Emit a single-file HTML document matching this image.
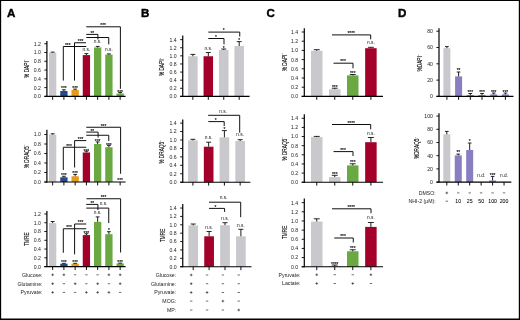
<!DOCTYPE html>
<html><head><meta charset="utf-8"><title>Figure</title>
<style>
html,body{margin:0;padding:0;background:#fff;}
body{width:520px;height:320px;overflow:hidden;position:relative;font-family:"Liberation Sans",sans-serif;}
svg{position:absolute;left:0;top:0;display:block;opacity:0.999;will-change:transform;}
svg text{font-family:"Liberation Sans",sans-serif;fill:#000;stroke:#000;stroke-width:0.04px;}
</style></head>
<body>
<svg width="520" height="320" viewBox="0 0 520 320">
<defs><filter id="soft" x="0" y="0" width="520" height="320" filterUnits="userSpaceOnUse"><feGaussianBlur stdDeviation="0.32"/></filter></defs>
<rect x="0" y="0" width="520" height="320" fill="#fff"/>
<g filter="url(#soft)">
<rect x="0" y="0" width="520" height="320" fill="#fff"/>
<rect x="49.00" y="52.50" width="7.30" height="43.90" fill="#c9c8cd"/>
<line x1="52.65" y1="52.10" x2="52.65" y2="52.50" stroke="#111" stroke-width="0.95"/>
<line x1="50.72" y1="52.10" x2="54.58" y2="52.10" stroke="#111" stroke-width="0.9"/>
<rect x="60.25" y="91.00" width="7.30" height="5.40" fill="#27488a"/>
<line x1="63.90" y1="89.75" x2="63.90" y2="91.00" stroke="#111" stroke-width="0.95"/>
<line x1="61.97" y1="89.75" x2="65.82" y2="89.75" stroke="#111" stroke-width="0.9"/>
<text x="63.90" y="90.20" text-anchor="middle" font-size="4.8" style="stroke-width:0.12px">***</text>
<rect x="71.50" y="90.00" width="7.30" height="6.40" fill="#e59a1f"/>
<line x1="75.15" y1="89.10" x2="75.15" y2="90.00" stroke="#111" stroke-width="0.95"/>
<line x1="73.23" y1="89.10" x2="77.08" y2="89.10" stroke="#111" stroke-width="0.9"/>
<text x="75.15" y="89.55" text-anchor="middle" font-size="4.8" style="stroke-width:0.12px">***</text>
<rect x="82.75" y="55.10" width="7.30" height="41.30" fill="#a30029"/>
<line x1="86.40" y1="53.60" x2="86.40" y2="55.10" stroke="#111" stroke-width="0.95"/>
<line x1="84.48" y1="53.60" x2="88.33" y2="53.60" stroke="#111" stroke-width="0.9"/>
<text x="86.40" y="50.95" text-anchor="middle" font-size="4.8" style="fill:#111;stroke:none">n.s.</text>
<rect x="94.00" y="47.50" width="7.30" height="48.90" fill="#6aa843"/>
<line x1="97.65" y1="46.40" x2="97.65" y2="47.50" stroke="#111" stroke-width="0.95"/>
<line x1="95.73" y1="46.40" x2="99.58" y2="46.40" stroke="#111" stroke-width="0.9"/>
<text x="97.65" y="43.45" text-anchor="middle" font-size="4.8" style="fill:#111;stroke:none">n.s.</text>
<rect x="105.25" y="54.60" width="7.30" height="41.80" fill="#6aa843"/>
<line x1="108.90" y1="53.90" x2="108.90" y2="54.60" stroke="#111" stroke-width="0.95"/>
<line x1="106.98" y1="53.90" x2="110.83" y2="53.90" stroke="#111" stroke-width="0.9"/>
<text x="108.90" y="51.20" text-anchor="middle" font-size="4.8" style="fill:#111;stroke:none">n.s.</text>
<rect x="116.50" y="93.50" width="7.30" height="2.90" fill="#6aa843"/>
<line x1="120.15" y1="92.50" x2="120.15" y2="93.50" stroke="#111" stroke-width="0.95"/>
<line x1="118.23" y1="92.50" x2="122.08" y2="92.50" stroke="#111" stroke-width="0.9"/>
<text x="120.15" y="93.55" text-anchor="middle" font-size="4.8" style="stroke-width:0.12px">***</text>
<path d="M86.25 26.80H120.40V88.75" fill="none" stroke="#111" stroke-width="1.0"/>
<text x="103.10" y="27.30" text-anchor="middle" font-size="4.8" style="stroke-width:0.12px">***</text>
<path d="M86.25 34.40H97.90V39.50" fill="none" stroke="#111" stroke-width="1.0"/>
<text x="92.25" y="34.55" text-anchor="middle" font-size="4.8" style="stroke-width:0.12px">**</text>
<path d="M86.25 37.50H108.75V44.40" fill="none" stroke="#111" stroke-width="1.0"/>
<path d="M86.00 42.75H74.50V80.60" fill="none" stroke="#111" stroke-width="1.0"/>
<text x="80.60" y="43.05" text-anchor="middle" font-size="4.8" style="stroke-width:0.12px">***</text>
<path d="M86.25 46.50H63.30V80.60" fill="none" stroke="#111" stroke-width="1.0"/>
<text x="67.75" y="46.70" text-anchor="middle" font-size="4.8" style="stroke-width:0.12px">***</text>
<line x1="46.90" y1="40.90" x2="46.90" y2="96.90" stroke="#000" stroke-width="1.2"/>
<line x1="44.40" y1="96.40" x2="125.60" y2="96.40" stroke="#000" stroke-width="1.15"/>
<line x1="44.30" y1="96.40" x2="46.90" y2="96.40" stroke="#000" stroke-width="0.9"/>
<text x="40.80" y="98.30" text-anchor="end" font-size="5.15" style="fill:#1c1c1c;stroke:none">0.0</text>
<line x1="44.30" y1="87.62" x2="46.90" y2="87.62" stroke="#000" stroke-width="0.9"/>
<text x="40.80" y="89.52" text-anchor="end" font-size="5.15" style="fill:#1c1c1c;stroke:none">0.2</text>
<line x1="44.30" y1="78.84" x2="46.90" y2="78.84" stroke="#000" stroke-width="0.9"/>
<text x="40.80" y="80.74" text-anchor="end" font-size="5.15" style="fill:#1c1c1c;stroke:none">0.4</text>
<line x1="44.30" y1="70.06" x2="46.90" y2="70.06" stroke="#000" stroke-width="0.9"/>
<text x="40.80" y="71.96" text-anchor="end" font-size="5.15" style="fill:#1c1c1c;stroke:none">0.6</text>
<line x1="44.30" y1="61.28" x2="46.90" y2="61.28" stroke="#000" stroke-width="0.9"/>
<text x="40.80" y="63.18" text-anchor="end" font-size="5.15" style="fill:#1c1c1c;stroke:none">0.8</text>
<line x1="44.30" y1="52.50" x2="46.90" y2="52.50" stroke="#000" stroke-width="0.9"/>
<text x="40.80" y="54.40" text-anchor="end" font-size="5.15" style="fill:#1c1c1c;stroke:none">1.0</text>
<line x1="44.30" y1="43.72" x2="46.90" y2="43.72" stroke="#000" stroke-width="0.9"/>
<text x="40.80" y="45.62" text-anchor="end" font-size="5.15" style="fill:#1c1c1c;stroke:none">1.2</text>
<line x1="52.65" y1="96.40" x2="52.65" y2="99.80" stroke="#000" stroke-width="0.95"/>
<line x1="63.90" y1="96.40" x2="63.90" y2="99.80" stroke="#000" stroke-width="0.95"/>
<line x1="75.15" y1="96.40" x2="75.15" y2="99.80" stroke="#000" stroke-width="0.95"/>
<line x1="86.40" y1="96.40" x2="86.40" y2="99.80" stroke="#000" stroke-width="0.95"/>
<line x1="97.65" y1="96.40" x2="97.65" y2="99.80" stroke="#000" stroke-width="0.95"/>
<line x1="108.90" y1="96.40" x2="108.90" y2="99.80" stroke="#000" stroke-width="0.95"/>
<line x1="120.15" y1="96.40" x2="120.15" y2="99.80" stroke="#000" stroke-width="0.95"/>
<rect x="49.00" y="134.60" width="7.30" height="47.40" fill="#c9c8cd"/>
<line x1="52.65" y1="133.75" x2="52.65" y2="134.60" stroke="#111" stroke-width="0.95"/>
<line x1="50.72" y1="133.75" x2="54.58" y2="133.75" stroke="#111" stroke-width="0.9"/>
<rect x="60.25" y="177.25" width="7.30" height="4.75" fill="#27488a"/>
<line x1="63.90" y1="176.25" x2="63.90" y2="177.25" stroke="#111" stroke-width="0.95"/>
<line x1="61.97" y1="176.25" x2="65.82" y2="176.25" stroke="#111" stroke-width="0.9"/>
<text x="63.90" y="176.80" text-anchor="middle" font-size="4.8" style="stroke-width:0.12px">***</text>
<rect x="71.50" y="176.25" width="7.30" height="5.75" fill="#e59a1f"/>
<line x1="75.15" y1="174.40" x2="75.15" y2="176.25" stroke="#111" stroke-width="0.95"/>
<line x1="73.23" y1="174.40" x2="77.08" y2="174.40" stroke="#111" stroke-width="0.9"/>
<text x="75.15" y="174.55" text-anchor="middle" font-size="4.8" style="stroke-width:0.12px">***</text>
<rect x="82.75" y="152.50" width="7.30" height="29.50" fill="#a30029"/>
<line x1="86.40" y1="151.25" x2="86.40" y2="152.50" stroke="#111" stroke-width="0.95"/>
<line x1="84.48" y1="151.25" x2="88.33" y2="151.25" stroke="#111" stroke-width="0.9"/>
<text x="86.40" y="152.70" text-anchor="middle" font-size="4.8" style="stroke-width:0.12px">***</text>
<rect x="94.00" y="144.00" width="7.30" height="38.00" fill="#6aa843"/>
<line x1="97.65" y1="141.90" x2="97.65" y2="144.00" stroke="#111" stroke-width="0.95"/>
<line x1="95.73" y1="141.90" x2="99.58" y2="141.90" stroke="#111" stroke-width="0.9"/>
<text x="97.65" y="143.30" text-anchor="middle" font-size="4.8" style="stroke-width:0.12px">***</text>
<rect x="105.25" y="147.25" width="7.30" height="34.75" fill="#6aa843"/>
<line x1="108.90" y1="145.40" x2="108.90" y2="147.25" stroke="#111" stroke-width="0.95"/>
<line x1="106.98" y1="145.40" x2="110.83" y2="145.40" stroke="#111" stroke-width="0.9"/>
<text x="108.90" y="146.80" text-anchor="middle" font-size="4.8" style="stroke-width:0.12px">***</text>
<text x="120.15" y="182.40" text-anchor="middle" font-size="4.8" style="stroke-width:0.12px">***</text>
<path d="M86.25 127.25H120.60V173.75" fill="none" stroke="#111" stroke-width="1.0"/>
<text x="103.50" y="127.70" text-anchor="middle" font-size="4.8" style="stroke-width:0.12px">***</text>
<path d="M86.25 132.10H98.10V137.50" fill="none" stroke="#111" stroke-width="1.0"/>
<text x="92.25" y="132.70" text-anchor="middle" font-size="4.8" style="stroke-width:0.12px">**</text>
<path d="M86.25 135.25H108.75V141.00" fill="none" stroke="#111" stroke-width="1.0"/>
<path d="M86.25 140.60H74.60V167.50" fill="none" stroke="#111" stroke-width="1.0"/>
<text x="80.60" y="141.20" text-anchor="middle" font-size="4.8" style="stroke-width:0.12px">***</text>
<path d="M86.25 147.25H63.30V170.00" fill="none" stroke="#111" stroke-width="1.0"/>
<text x="69.00" y="147.90" text-anchor="middle" font-size="4.8" style="stroke-width:0.12px">***</text>
<line x1="46.90" y1="129.75" x2="46.90" y2="182.50" stroke="#000" stroke-width="1.2"/>
<line x1="44.40" y1="182.00" x2="125.60" y2="182.00" stroke="#000" stroke-width="1.15"/>
<line x1="44.30" y1="182.00" x2="46.90" y2="182.00" stroke="#000" stroke-width="0.9"/>
<text x="40.80" y="183.90" text-anchor="end" font-size="5.15" style="fill:#1c1c1c;stroke:none">0.0</text>
<line x1="44.30" y1="172.50" x2="46.90" y2="172.50" stroke="#000" stroke-width="0.9"/>
<text x="40.80" y="174.40" text-anchor="end" font-size="5.15" style="fill:#1c1c1c;stroke:none">0.2</text>
<line x1="44.30" y1="163.00" x2="46.90" y2="163.00" stroke="#000" stroke-width="0.9"/>
<text x="40.80" y="164.90" text-anchor="end" font-size="5.15" style="fill:#1c1c1c;stroke:none">0.4</text>
<line x1="44.30" y1="153.50" x2="46.90" y2="153.50" stroke="#000" stroke-width="0.9"/>
<text x="40.80" y="155.40" text-anchor="end" font-size="5.15" style="fill:#1c1c1c;stroke:none">0.6</text>
<line x1="44.30" y1="144.00" x2="46.90" y2="144.00" stroke="#000" stroke-width="0.9"/>
<text x="40.80" y="145.90" text-anchor="end" font-size="5.15" style="fill:#1c1c1c;stroke:none">0.8</text>
<line x1="44.30" y1="134.50" x2="46.90" y2="134.50" stroke="#000" stroke-width="0.9"/>
<text x="40.80" y="136.40" text-anchor="end" font-size="5.15" style="fill:#1c1c1c;stroke:none">1.0</text>
<line x1="52.65" y1="182.00" x2="52.65" y2="185.40" stroke="#000" stroke-width="0.95"/>
<line x1="63.90" y1="182.00" x2="63.90" y2="185.40" stroke="#000" stroke-width="0.95"/>
<line x1="75.15" y1="182.00" x2="75.15" y2="185.40" stroke="#000" stroke-width="0.95"/>
<line x1="86.40" y1="182.00" x2="86.40" y2="185.40" stroke="#000" stroke-width="0.95"/>
<line x1="97.65" y1="182.00" x2="97.65" y2="185.40" stroke="#000" stroke-width="0.95"/>
<line x1="108.90" y1="182.00" x2="108.90" y2="185.40" stroke="#000" stroke-width="0.95"/>
<line x1="120.15" y1="182.00" x2="120.15" y2="185.40" stroke="#000" stroke-width="0.95"/>
<rect x="49.00" y="223.10" width="7.30" height="43.50" fill="#c9c8cd"/>
<line x1="52.65" y1="221.50" x2="52.65" y2="223.10" stroke="#111" stroke-width="0.95"/>
<line x1="50.72" y1="221.50" x2="54.58" y2="221.50" stroke="#111" stroke-width="0.9"/>
<rect x="60.25" y="263.70" width="7.30" height="2.90" fill="#27488a"/>
<line x1="63.90" y1="263.30" x2="63.90" y2="263.70" stroke="#111" stroke-width="0.95"/>
<line x1="61.97" y1="263.30" x2="65.82" y2="263.30" stroke="#111" stroke-width="0.9"/>
<text x="63.90" y="264.20" text-anchor="middle" font-size="4.8" style="stroke-width:0.12px">***</text>
<rect x="71.50" y="263.70" width="7.30" height="2.90" fill="#e59a1f"/>
<line x1="75.15" y1="263.30" x2="75.15" y2="263.70" stroke="#111" stroke-width="0.95"/>
<line x1="73.23" y1="263.30" x2="77.08" y2="263.30" stroke="#111" stroke-width="0.9"/>
<text x="75.15" y="264.20" text-anchor="middle" font-size="4.8" style="stroke-width:0.12px">***</text>
<rect x="82.75" y="235.10" width="7.30" height="31.50" fill="#a30029"/>
<line x1="86.40" y1="233.75" x2="86.40" y2="235.10" stroke="#111" stroke-width="0.95"/>
<line x1="84.48" y1="233.75" x2="88.33" y2="233.75" stroke="#111" stroke-width="0.9"/>
<text x="86.40" y="235.20" text-anchor="middle" font-size="4.8" style="stroke-width:0.12px">***</text>
<rect x="94.00" y="221.90" width="7.30" height="44.70" fill="#6aa843"/>
<line x1="97.65" y1="216.90" x2="97.65" y2="221.90" stroke="#111" stroke-width="0.95"/>
<line x1="95.73" y1="216.90" x2="99.58" y2="216.90" stroke="#111" stroke-width="0.9"/>
<text x="97.65" y="214.35" text-anchor="middle" font-size="4.8" style="fill:#111;stroke:none">n.s.</text>
<rect x="105.25" y="234.20" width="7.30" height="32.40" fill="#6aa843"/>
<line x1="108.90" y1="231.70" x2="108.90" y2="234.20" stroke="#111" stroke-width="0.95"/>
<line x1="106.98" y1="231.70" x2="110.83" y2="231.70" stroke="#111" stroke-width="0.9"/>
<text x="108.90" y="232.05" text-anchor="middle" font-size="4.8" style="stroke-width:0.12px">*</text>
<rect x="116.50" y="263.40" width="7.30" height="3.20" fill="#6aa843"/>
<line x1="120.15" y1="263.10" x2="120.15" y2="263.40" stroke="#111" stroke-width="0.95"/>
<line x1="118.23" y1="263.10" x2="122.08" y2="263.10" stroke="#111" stroke-width="0.9"/>
<text x="120.15" y="264.20" text-anchor="middle" font-size="4.8" style="stroke-width:0.12px">***</text>
<path d="M86.50 198.75H120.60V252.50" fill="none" stroke="#111" stroke-width="1.0"/>
<text x="103.50" y="199.30" text-anchor="middle" font-size="4.8" style="stroke-width:0.12px">***</text>
<path d="M86.25 204.40H97.90V210.00" fill="none" stroke="#111" stroke-width="1.0"/>
<text x="92.25" y="204.90" text-anchor="middle" font-size="4.8" style="stroke-width:0.12px">**</text>
<path d="M86.25 208.10H108.75V223.10" fill="none" stroke="#111" stroke-width="1.0"/>
<text x="103.50" y="205.35" text-anchor="middle" font-size="4.8" style="fill:#111;stroke:none">n.s.</text>
<path d="M86.25 224.00H74.60V254.40" fill="none" stroke="#111" stroke-width="1.0"/>
<text x="80.60" y="224.30" text-anchor="middle" font-size="4.8" style="stroke-width:0.12px">***</text>
<path d="M86.25 228.75H63.30V252.75" fill="none" stroke="#111" stroke-width="1.0"/>
<text x="69.00" y="229.30" text-anchor="middle" font-size="4.8" style="stroke-width:0.12px">***</text>
<line x1="46.90" y1="211.00" x2="46.90" y2="267.10" stroke="#000" stroke-width="1.2"/>
<line x1="44.40" y1="266.60" x2="125.60" y2="266.60" stroke="#000" stroke-width="1.15"/>
<line x1="44.30" y1="266.60" x2="46.90" y2="266.60" stroke="#000" stroke-width="0.9"/>
<text x="40.80" y="268.50" text-anchor="end" font-size="5.15" style="fill:#1c1c1c;stroke:none">0.0</text>
<line x1="44.30" y1="257.83" x2="46.90" y2="257.83" stroke="#000" stroke-width="0.9"/>
<text x="40.80" y="259.73" text-anchor="end" font-size="5.15" style="fill:#1c1c1c;stroke:none">0.2</text>
<line x1="44.30" y1="249.06" x2="46.90" y2="249.06" stroke="#000" stroke-width="0.9"/>
<text x="40.80" y="250.96" text-anchor="end" font-size="5.15" style="fill:#1c1c1c;stroke:none">0.4</text>
<line x1="44.30" y1="240.29" x2="46.90" y2="240.29" stroke="#000" stroke-width="0.9"/>
<text x="40.80" y="242.19" text-anchor="end" font-size="5.15" style="fill:#1c1c1c;stroke:none">0.6</text>
<line x1="44.30" y1="231.52" x2="46.90" y2="231.52" stroke="#000" stroke-width="0.9"/>
<text x="40.80" y="233.42" text-anchor="end" font-size="5.15" style="fill:#1c1c1c;stroke:none">0.8</text>
<line x1="44.30" y1="222.75" x2="46.90" y2="222.75" stroke="#000" stroke-width="0.9"/>
<text x="40.80" y="224.65" text-anchor="end" font-size="5.15" style="fill:#1c1c1c;stroke:none">1.0</text>
<line x1="44.30" y1="213.98" x2="46.90" y2="213.98" stroke="#000" stroke-width="0.9"/>
<text x="40.80" y="215.88" text-anchor="end" font-size="5.15" style="fill:#1c1c1c;stroke:none">1.2</text>
<line x1="52.65" y1="266.60" x2="52.65" y2="270.00" stroke="#000" stroke-width="0.95"/>
<line x1="63.90" y1="266.60" x2="63.90" y2="270.00" stroke="#000" stroke-width="0.95"/>
<line x1="75.15" y1="266.60" x2="75.15" y2="270.00" stroke="#000" stroke-width="0.95"/>
<line x1="86.40" y1="266.60" x2="86.40" y2="270.00" stroke="#000" stroke-width="0.95"/>
<line x1="97.65" y1="266.60" x2="97.65" y2="270.00" stroke="#000" stroke-width="0.95"/>
<line x1="108.90" y1="266.60" x2="108.90" y2="270.00" stroke="#000" stroke-width="0.95"/>
<line x1="120.15" y1="266.60" x2="120.15" y2="270.00" stroke="#000" stroke-width="0.95"/>
<text x="42.50" y="276.60" text-anchor="end" font-size="5.2" style="fill:#1c1c1c;stroke:none">Glucose:</text>
<line x1="51.35" y1="274.80" x2="53.95" y2="274.80" stroke="#111" stroke-width="0.6"/>
<line x1="52.65" y1="273.50" x2="52.65" y2="276.10" stroke="#111" stroke-width="0.6"/>
<line x1="62.60" y1="274.80" x2="65.20" y2="274.80" stroke="#111" stroke-width="0.6"/>
<line x1="63.90" y1="273.50" x2="63.90" y2="276.10" stroke="#111" stroke-width="0.6"/>
<line x1="73.95" y1="274.80" x2="76.35" y2="274.80" stroke="#111" stroke-width="0.6"/>
<line x1="85.20" y1="274.80" x2="87.60" y2="274.80" stroke="#111" stroke-width="0.6"/>
<line x1="96.45" y1="274.80" x2="98.85" y2="274.80" stroke="#111" stroke-width="0.6"/>
<line x1="107.60" y1="274.80" x2="110.20" y2="274.80" stroke="#111" stroke-width="0.6"/>
<line x1="108.90" y1="273.50" x2="108.90" y2="276.10" stroke="#111" stroke-width="0.6"/>
<line x1="118.85" y1="274.80" x2="121.45" y2="274.80" stroke="#111" stroke-width="0.6"/>
<line x1="120.15" y1="273.50" x2="120.15" y2="276.10" stroke="#111" stroke-width="0.6"/>
<text x="42.50" y="285.50" text-anchor="end" font-size="5.2" style="fill:#1c1c1c;stroke:none">Glutamine:</text>
<line x1="51.35" y1="283.70" x2="53.95" y2="283.70" stroke="#111" stroke-width="0.6"/>
<line x1="52.65" y1="282.40" x2="52.65" y2="285.00" stroke="#111" stroke-width="0.6"/>
<line x1="62.70" y1="283.70" x2="65.10" y2="283.70" stroke="#111" stroke-width="0.6"/>
<line x1="73.85" y1="283.70" x2="76.45" y2="283.70" stroke="#111" stroke-width="0.6"/>
<line x1="75.15" y1="282.40" x2="75.15" y2="285.00" stroke="#111" stroke-width="0.6"/>
<line x1="85.20" y1="283.70" x2="87.60" y2="283.70" stroke="#111" stroke-width="0.6"/>
<line x1="96.35" y1="283.70" x2="98.95" y2="283.70" stroke="#111" stroke-width="0.6"/>
<line x1="97.65" y1="282.40" x2="97.65" y2="285.00" stroke="#111" stroke-width="0.6"/>
<line x1="107.70" y1="283.70" x2="110.10" y2="283.70" stroke="#111" stroke-width="0.6"/>
<line x1="118.85" y1="283.70" x2="121.45" y2="283.70" stroke="#111" stroke-width="0.6"/>
<line x1="120.15" y1="282.40" x2="120.15" y2="285.00" stroke="#111" stroke-width="0.6"/>
<text x="42.50" y="294.20" text-anchor="end" font-size="5.2" style="fill:#1c1c1c;stroke:none">Pyruvate:</text>
<line x1="51.35" y1="292.40" x2="53.95" y2="292.40" stroke="#111" stroke-width="0.6"/>
<line x1="52.65" y1="291.10" x2="52.65" y2="293.70" stroke="#111" stroke-width="0.6"/>
<line x1="62.70" y1="292.40" x2="65.10" y2="292.40" stroke="#111" stroke-width="0.6"/>
<line x1="73.95" y1="292.40" x2="76.35" y2="292.40" stroke="#111" stroke-width="0.6"/>
<line x1="85.10" y1="292.40" x2="87.70" y2="292.40" stroke="#111" stroke-width="0.6"/>
<line x1="86.40" y1="291.10" x2="86.40" y2="293.70" stroke="#111" stroke-width="0.6"/>
<line x1="96.35" y1="292.40" x2="98.95" y2="292.40" stroke="#111" stroke-width="0.6"/>
<line x1="97.65" y1="291.10" x2="97.65" y2="293.70" stroke="#111" stroke-width="0.6"/>
<line x1="107.60" y1="292.40" x2="110.20" y2="292.40" stroke="#111" stroke-width="0.6"/>
<line x1="108.90" y1="291.10" x2="108.90" y2="293.70" stroke="#111" stroke-width="0.6"/>
<line x1="118.95" y1="292.40" x2="121.35" y2="292.40" stroke="#111" stroke-width="0.6"/>
<rect x="188.10" y="56.25" width="9.50" height="40.15" fill="#c9c8cd"/>
<line x1="192.85" y1="54.40" x2="192.85" y2="56.25" stroke="#111" stroke-width="0.95"/>
<line x1="190.38" y1="54.40" x2="195.32" y2="54.40" stroke="#111" stroke-width="0.9"/>
<rect x="203.55" y="56.25" width="9.50" height="40.15" fill="#a30029"/>
<line x1="208.30" y1="52.50" x2="208.30" y2="56.25" stroke="#111" stroke-width="0.95"/>
<line x1="205.82" y1="52.50" x2="210.77" y2="52.50" stroke="#111" stroke-width="0.9"/>
<text x="208.30" y="50.35" text-anchor="middle" font-size="4.8" style="fill:#111;stroke:none">n.s.</text>
<rect x="219.00" y="50.00" width="9.50" height="46.40" fill="#c9c8cd"/>
<line x1="223.75" y1="49.00" x2="223.75" y2="50.00" stroke="#111" stroke-width="0.95"/>
<line x1="221.28" y1="49.00" x2="226.22" y2="49.00" stroke="#111" stroke-width="0.9"/>
<text x="223.75" y="49.55" text-anchor="middle" font-size="4.8" style="stroke-width:0.12px">*</text>
<rect x="234.45" y="46.00" width="9.50" height="50.40" fill="#c9c8cd"/>
<line x1="239.20" y1="41.60" x2="239.20" y2="46.00" stroke="#111" stroke-width="0.95"/>
<line x1="236.72" y1="41.60" x2="241.67" y2="41.60" stroke="#111" stroke-width="0.9"/>
<text x="239.20" y="42.05" text-anchor="middle" font-size="4.8" style="stroke-width:0.12px">*</text>
<path d="M208.30 32.10H239.75V36.50" fill="none" stroke="#111" stroke-width="1.0"/>
<text x="223.75" y="32.30" text-anchor="middle" font-size="4.8" style="stroke-width:0.12px">*</text>
<path d="M208.30 38.50H224.00V44.40" fill="none" stroke="#111" stroke-width="1.0"/>
<text x="216.00" y="38.70" text-anchor="middle" font-size="4.8" style="stroke-width:0.12px">*</text>
<line x1="182.75" y1="35.60" x2="182.75" y2="96.90" stroke="#000" stroke-width="1.2"/>
<line x1="180.20" y1="96.40" x2="249.60" y2="96.40" stroke="#000" stroke-width="1.15"/>
<line x1="180.15" y1="96.40" x2="182.75" y2="96.40" stroke="#000" stroke-width="0.9"/>
<text x="176.65" y="98.30" text-anchor="end" font-size="5.15" style="fill:#1c1c1c;stroke:none">0.0</text>
<line x1="180.15" y1="88.29" x2="182.75" y2="88.29" stroke="#000" stroke-width="0.9"/>
<text x="176.65" y="90.19" text-anchor="end" font-size="5.15" style="fill:#1c1c1c;stroke:none">0.2</text>
<line x1="180.15" y1="80.18" x2="182.75" y2="80.18" stroke="#000" stroke-width="0.9"/>
<text x="176.65" y="82.08" text-anchor="end" font-size="5.15" style="fill:#1c1c1c;stroke:none">0.4</text>
<line x1="180.15" y1="72.07" x2="182.75" y2="72.07" stroke="#000" stroke-width="0.9"/>
<text x="176.65" y="73.97" text-anchor="end" font-size="5.15" style="fill:#1c1c1c;stroke:none">0.6</text>
<line x1="180.15" y1="63.96" x2="182.75" y2="63.96" stroke="#000" stroke-width="0.9"/>
<text x="176.65" y="65.86" text-anchor="end" font-size="5.15" style="fill:#1c1c1c;stroke:none">0.8</text>
<line x1="180.15" y1="55.85" x2="182.75" y2="55.85" stroke="#000" stroke-width="0.9"/>
<text x="176.65" y="57.75" text-anchor="end" font-size="5.15" style="fill:#1c1c1c;stroke:none">1.0</text>
<line x1="180.15" y1="47.74" x2="182.75" y2="47.74" stroke="#000" stroke-width="0.9"/>
<text x="176.65" y="49.64" text-anchor="end" font-size="5.15" style="fill:#1c1c1c;stroke:none">1.2</text>
<line x1="180.15" y1="39.63" x2="182.75" y2="39.63" stroke="#000" stroke-width="0.9"/>
<text x="176.65" y="41.53" text-anchor="end" font-size="5.15" style="fill:#1c1c1c;stroke:none">1.4</text>
<line x1="192.85" y1="96.40" x2="192.85" y2="99.80" stroke="#000" stroke-width="0.95"/>
<line x1="208.30" y1="96.40" x2="208.30" y2="99.80" stroke="#000" stroke-width="0.95"/>
<line x1="223.75" y1="96.40" x2="223.75" y2="99.80" stroke="#000" stroke-width="0.95"/>
<line x1="239.20" y1="96.40" x2="239.20" y2="99.80" stroke="#000" stroke-width="0.95"/>
<rect x="188.08" y="140.40" width="9.65" height="41.80" fill="#c9c8cd"/>
<line x1="192.90" y1="139.30" x2="192.90" y2="140.40" stroke="#111" stroke-width="0.95"/>
<line x1="190.39" y1="139.30" x2="195.41" y2="139.30" stroke="#111" stroke-width="0.9"/>
<rect x="203.83" y="146.70" width="9.65" height="35.50" fill="#a30029"/>
<line x1="208.65" y1="142.20" x2="208.65" y2="146.70" stroke="#111" stroke-width="0.95"/>
<line x1="206.14" y1="142.20" x2="211.16" y2="142.20" stroke="#111" stroke-width="0.9"/>
<text x="208.65" y="139.15" text-anchor="middle" font-size="4.8" style="fill:#111;stroke:none">n.s.</text>
<rect x="219.58" y="137.30" width="9.65" height="44.90" fill="#c9c8cd"/>
<line x1="224.40" y1="130.60" x2="224.40" y2="137.30" stroke="#111" stroke-width="0.95"/>
<line x1="221.89" y1="130.60" x2="226.91" y2="130.60" stroke="#111" stroke-width="0.9"/>
<text x="224.40" y="131.00" text-anchor="middle" font-size="4.8" style="stroke-width:0.12px">*</text>
<rect x="235.33" y="141.00" width="9.65" height="41.20" fill="#c9c8cd"/>
<line x1="240.15" y1="139.70" x2="240.15" y2="141.00" stroke="#111" stroke-width="0.95"/>
<line x1="237.64" y1="139.70" x2="242.66" y2="139.70" stroke="#111" stroke-width="0.9"/>
<text x="240.15" y="136.25" text-anchor="middle" font-size="4.8" style="fill:#111;stroke:none">n.s.</text>
<path d="M208.10 115.30H239.70V132.70" fill="none" stroke="#111" stroke-width="1.0"/>
<text x="223.00" y="112.55" text-anchor="middle" font-size="4.8" style="fill:#111;stroke:none">n.s.</text>
<path d="M208.30 121.60H224.20V126.00" fill="none" stroke="#111" stroke-width="1.0"/>
<text x="215.60" y="122.10" text-anchor="middle" font-size="4.8" style="stroke-width:0.12px">*</text>
<line x1="182.75" y1="119.40" x2="182.75" y2="182.70" stroke="#000" stroke-width="1.2"/>
<line x1="180.20" y1="182.20" x2="250.40" y2="182.20" stroke="#000" stroke-width="1.15"/>
<line x1="180.15" y1="182.20" x2="182.75" y2="182.20" stroke="#000" stroke-width="0.9"/>
<text x="176.65" y="184.10" text-anchor="end" font-size="5.15" style="fill:#1c1c1c;stroke:none">0.0</text>
<line x1="180.15" y1="173.76" x2="182.75" y2="173.76" stroke="#000" stroke-width="0.9"/>
<text x="176.65" y="175.66" text-anchor="end" font-size="5.15" style="fill:#1c1c1c;stroke:none">0.2</text>
<line x1="180.15" y1="165.32" x2="182.75" y2="165.32" stroke="#000" stroke-width="0.9"/>
<text x="176.65" y="167.22" text-anchor="end" font-size="5.15" style="fill:#1c1c1c;stroke:none">0.4</text>
<line x1="180.15" y1="156.88" x2="182.75" y2="156.88" stroke="#000" stroke-width="0.9"/>
<text x="176.65" y="158.78" text-anchor="end" font-size="5.15" style="fill:#1c1c1c;stroke:none">0.6</text>
<line x1="180.15" y1="148.44" x2="182.75" y2="148.44" stroke="#000" stroke-width="0.9"/>
<text x="176.65" y="150.34" text-anchor="end" font-size="5.15" style="fill:#1c1c1c;stroke:none">0.8</text>
<line x1="180.15" y1="140.00" x2="182.75" y2="140.00" stroke="#000" stroke-width="0.9"/>
<text x="176.65" y="141.90" text-anchor="end" font-size="5.15" style="fill:#1c1c1c;stroke:none">1.0</text>
<line x1="180.15" y1="131.56" x2="182.75" y2="131.56" stroke="#000" stroke-width="0.9"/>
<text x="176.65" y="133.46" text-anchor="end" font-size="5.15" style="fill:#1c1c1c;stroke:none">1.2</text>
<line x1="180.15" y1="123.12" x2="182.75" y2="123.12" stroke="#000" stroke-width="0.9"/>
<text x="176.65" y="125.02" text-anchor="end" font-size="5.15" style="fill:#1c1c1c;stroke:none">1.4</text>
<line x1="192.90" y1="182.20" x2="192.90" y2="185.60" stroke="#000" stroke-width="0.95"/>
<line x1="208.65" y1="182.20" x2="208.65" y2="185.60" stroke="#000" stroke-width="0.95"/>
<line x1="224.40" y1="182.20" x2="224.40" y2="185.60" stroke="#000" stroke-width="0.95"/>
<line x1="240.15" y1="182.20" x2="240.15" y2="185.60" stroke="#000" stroke-width="0.95"/>
<rect x="188.35" y="225.40" width="9.70" height="41.30" fill="#c9c8cd"/>
<line x1="193.20" y1="224.00" x2="193.20" y2="225.40" stroke="#111" stroke-width="0.95"/>
<line x1="190.67" y1="224.00" x2="195.72" y2="224.00" stroke="#111" stroke-width="0.9"/>
<rect x="204.25" y="236.30" width="9.70" height="30.40" fill="#a30029"/>
<line x1="209.10" y1="231.50" x2="209.10" y2="236.30" stroke="#111" stroke-width="0.95"/>
<line x1="206.57" y1="231.50" x2="211.62" y2="231.50" stroke="#111" stroke-width="0.9"/>
<text x="209.10" y="229.25" text-anchor="middle" font-size="4.8" style="fill:#111;stroke:none">n.s.</text>
<rect x="220.15" y="225.20" width="9.70" height="41.50" fill="#c9c8cd"/>
<line x1="225.00" y1="222.70" x2="225.00" y2="225.20" stroke="#111" stroke-width="0.95"/>
<line x1="222.47" y1="222.70" x2="227.53" y2="222.70" stroke="#111" stroke-width="0.9"/>
<text x="225.00" y="219.95" text-anchor="middle" font-size="4.8" style="fill:#111;stroke:none">n.s.</text>
<rect x="236.05" y="236.30" width="9.70" height="30.40" fill="#c9c8cd"/>
<line x1="240.90" y1="229.30" x2="240.90" y2="236.30" stroke="#111" stroke-width="0.95"/>
<line x1="238.37" y1="229.30" x2="243.42" y2="229.30" stroke="#111" stroke-width="0.9"/>
<text x="240.90" y="226.55" text-anchor="middle" font-size="4.8" style="fill:#111;stroke:none">n.s.</text>
<path d="M209.00 202.20H240.70V217.20" fill="none" stroke="#111" stroke-width="1.0"/>
<text x="223.50" y="199.35" text-anchor="middle" font-size="4.8" style="fill:#111;stroke:none">n.s.</text>
<path d="M209.00 208.40H224.60V211.90" fill="none" stroke="#111" stroke-width="1.0"/>
<text x="215.50" y="208.60" text-anchor="middle" font-size="4.8" style="stroke-width:0.12px">*</text>
<line x1="182.75" y1="203.90" x2="182.75" y2="267.20" stroke="#000" stroke-width="1.2"/>
<line x1="180.20" y1="266.70" x2="251.50" y2="266.70" stroke="#000" stroke-width="1.15"/>
<line x1="180.15" y1="266.70" x2="182.75" y2="266.70" stroke="#000" stroke-width="0.9"/>
<text x="176.65" y="268.60" text-anchor="end" font-size="5.15" style="fill:#1c1c1c;stroke:none">0.0</text>
<line x1="180.15" y1="258.32" x2="182.75" y2="258.32" stroke="#000" stroke-width="0.9"/>
<text x="176.65" y="260.22" text-anchor="end" font-size="5.15" style="fill:#1c1c1c;stroke:none">0.2</text>
<line x1="180.15" y1="249.94" x2="182.75" y2="249.94" stroke="#000" stroke-width="0.9"/>
<text x="176.65" y="251.84" text-anchor="end" font-size="5.15" style="fill:#1c1c1c;stroke:none">0.4</text>
<line x1="180.15" y1="241.56" x2="182.75" y2="241.56" stroke="#000" stroke-width="0.9"/>
<text x="176.65" y="243.46" text-anchor="end" font-size="5.15" style="fill:#1c1c1c;stroke:none">0.6</text>
<line x1="180.15" y1="233.18" x2="182.75" y2="233.18" stroke="#000" stroke-width="0.9"/>
<text x="176.65" y="235.08" text-anchor="end" font-size="5.15" style="fill:#1c1c1c;stroke:none">0.8</text>
<line x1="180.15" y1="224.80" x2="182.75" y2="224.80" stroke="#000" stroke-width="0.9"/>
<text x="176.65" y="226.70" text-anchor="end" font-size="5.15" style="fill:#1c1c1c;stroke:none">1.0</text>
<line x1="180.15" y1="216.42" x2="182.75" y2="216.42" stroke="#000" stroke-width="0.9"/>
<text x="176.65" y="218.32" text-anchor="end" font-size="5.15" style="fill:#1c1c1c;stroke:none">1.2</text>
<line x1="180.15" y1="208.04" x2="182.75" y2="208.04" stroke="#000" stroke-width="0.9"/>
<text x="176.65" y="209.94" text-anchor="end" font-size="5.15" style="fill:#1c1c1c;stroke:none">1.4</text>
<line x1="193.20" y1="266.70" x2="193.20" y2="270.10" stroke="#000" stroke-width="0.95"/>
<line x1="209.10" y1="266.70" x2="209.10" y2="270.10" stroke="#000" stroke-width="0.95"/>
<line x1="225.00" y1="266.70" x2="225.00" y2="270.10" stroke="#000" stroke-width="0.95"/>
<line x1="240.90" y1="266.70" x2="240.90" y2="270.10" stroke="#000" stroke-width="0.95"/>
<text x="176.20" y="276.80" text-anchor="end" font-size="5.2" style="fill:#1c1c1c;stroke:none">Glucose:</text>
<line x1="189.90" y1="275.00" x2="192.50" y2="275.00" stroke="#111" stroke-width="0.6"/>
<line x1="191.20" y1="273.70" x2="191.20" y2="276.30" stroke="#111" stroke-width="0.6"/>
<line x1="205.85" y1="275.00" x2="208.25" y2="275.00" stroke="#111" stroke-width="0.6"/>
<line x1="221.70" y1="275.00" x2="224.10" y2="275.00" stroke="#111" stroke-width="0.6"/>
<line x1="237.55" y1="275.00" x2="239.95" y2="275.00" stroke="#111" stroke-width="0.6"/>
<text x="176.20" y="285.50" text-anchor="end" font-size="5.2" style="fill:#1c1c1c;stroke:none">Glutamine:</text>
<line x1="189.90" y1="283.70" x2="192.50" y2="283.70" stroke="#111" stroke-width="0.6"/>
<line x1="191.20" y1="282.40" x2="191.20" y2="285.00" stroke="#111" stroke-width="0.6"/>
<line x1="205.85" y1="283.70" x2="208.25" y2="283.70" stroke="#111" stroke-width="0.6"/>
<line x1="221.70" y1="283.70" x2="224.10" y2="283.70" stroke="#111" stroke-width="0.6"/>
<line x1="237.55" y1="283.70" x2="239.95" y2="283.70" stroke="#111" stroke-width="0.6"/>
<text x="176.20" y="294.30" text-anchor="end" font-size="5.2" style="fill:#1c1c1c;stroke:none">Pyruvate:</text>
<line x1="189.90" y1="292.50" x2="192.50" y2="292.50" stroke="#111" stroke-width="0.6"/>
<line x1="191.20" y1="291.20" x2="191.20" y2="293.80" stroke="#111" stroke-width="0.6"/>
<line x1="205.75" y1="292.50" x2="208.35" y2="292.50" stroke="#111" stroke-width="0.6"/>
<line x1="207.05" y1="291.20" x2="207.05" y2="293.80" stroke="#111" stroke-width="0.6"/>
<line x1="221.70" y1="292.50" x2="224.10" y2="292.50" stroke="#111" stroke-width="0.6"/>
<line x1="237.55" y1="292.50" x2="239.95" y2="292.50" stroke="#111" stroke-width="0.6"/>
<text x="176.20" y="302.90" text-anchor="end" font-size="5.2" style="fill:#1c1c1c;stroke:none">MOG:</text>
<line x1="190.00" y1="301.10" x2="192.40" y2="301.10" stroke="#111" stroke-width="0.6"/>
<line x1="205.85" y1="301.10" x2="208.25" y2="301.10" stroke="#111" stroke-width="0.6"/>
<line x1="221.60" y1="301.10" x2="224.20" y2="301.10" stroke="#111" stroke-width="0.6"/>
<line x1="222.90" y1="299.80" x2="222.90" y2="302.40" stroke="#111" stroke-width="0.6"/>
<line x1="237.55" y1="301.10" x2="239.95" y2="301.10" stroke="#111" stroke-width="0.6"/>
<text x="176.20" y="311.80" text-anchor="end" font-size="5.2" style="fill:#1c1c1c;stroke:none">MP:</text>
<line x1="190.00" y1="310.00" x2="192.40" y2="310.00" stroke="#111" stroke-width="0.6"/>
<line x1="205.85" y1="310.00" x2="208.25" y2="310.00" stroke="#111" stroke-width="0.6"/>
<line x1="221.70" y1="310.00" x2="224.10" y2="310.00" stroke="#111" stroke-width="0.6"/>
<line x1="237.45" y1="310.00" x2="240.05" y2="310.00" stroke="#111" stroke-width="0.6"/>
<line x1="238.75" y1="308.70" x2="238.75" y2="311.30" stroke="#111" stroke-width="0.6"/>
<rect x="311.00" y="50.80" width="11.50" height="45.60" fill="#c9c8cd"/>
<line x1="316.75" y1="49.70" x2="316.75" y2="50.80" stroke="#111" stroke-width="0.95"/>
<line x1="313.77" y1="49.70" x2="319.73" y2="49.70" stroke="#111" stroke-width="0.9"/>
<rect x="329.00" y="89.30" width="11.50" height="7.10" fill="#c9c8cd"/>
<line x1="334.75" y1="88.20" x2="334.75" y2="89.30" stroke="#111" stroke-width="0.95"/>
<line x1="331.77" y1="88.20" x2="337.73" y2="88.20" stroke="#111" stroke-width="0.9"/>
<text x="334.75" y="88.60" text-anchor="middle" font-size="4.8" style="stroke-width:0.12px">***</text>
<rect x="347.00" y="75.40" width="11.50" height="21.00" fill="#6aa843"/>
<line x1="352.75" y1="74.50" x2="352.75" y2="75.40" stroke="#111" stroke-width="0.95"/>
<line x1="349.77" y1="74.50" x2="355.73" y2="74.50" stroke="#111" stroke-width="0.9"/>
<text x="352.75" y="74.90" text-anchor="middle" font-size="4.8" style="stroke-width:0.12px">***</text>
<rect x="365.15" y="48.20" width="11.50" height="48.20" fill="#a30029"/>
<line x1="370.90" y1="47.30" x2="370.90" y2="48.20" stroke="#111" stroke-width="0.95"/>
<line x1="367.92" y1="47.30" x2="373.88" y2="47.30" stroke="#111" stroke-width="0.9"/>
<text x="370.90" y="44.05" text-anchor="middle" font-size="4.8" style="fill:#111;stroke:none">n.s.</text>
<path d="M332.00 34.90H370.70V39.30" fill="none" stroke="#111" stroke-width="1.0"/>
<text x="351.20" y="34.90" text-anchor="middle" font-size="4.8" style="stroke-width:0.12px">****</text>
<path d="M333.50 63.20H353.00V68.30" fill="none" stroke="#111" stroke-width="1.0"/>
<text x="343.00" y="63.30" text-anchor="middle" font-size="4.8" style="stroke-width:0.12px">***</text>
<line x1="304.30" y1="28.30" x2="304.30" y2="96.90" stroke="#000" stroke-width="1.2"/>
<line x1="301.70" y1="96.40" x2="383.00" y2="96.40" stroke="#000" stroke-width="1.15"/>
<line x1="301.70" y1="96.40" x2="304.30" y2="96.40" stroke="#000" stroke-width="0.9"/>
<text x="298.20" y="98.30" text-anchor="end" font-size="5.15" style="fill:#1c1c1c;stroke:none">0.0</text>
<line x1="301.70" y1="87.20" x2="304.30" y2="87.20" stroke="#000" stroke-width="0.9"/>
<text x="298.20" y="89.10" text-anchor="end" font-size="5.15" style="fill:#1c1c1c;stroke:none">0.2</text>
<line x1="301.70" y1="78.00" x2="304.30" y2="78.00" stroke="#000" stroke-width="0.9"/>
<text x="298.20" y="79.90" text-anchor="end" font-size="5.15" style="fill:#1c1c1c;stroke:none">0.4</text>
<line x1="301.70" y1="68.80" x2="304.30" y2="68.80" stroke="#000" stroke-width="0.9"/>
<text x="298.20" y="70.70" text-anchor="end" font-size="5.15" style="fill:#1c1c1c;stroke:none">0.6</text>
<line x1="301.70" y1="59.60" x2="304.30" y2="59.60" stroke="#000" stroke-width="0.9"/>
<text x="298.20" y="61.50" text-anchor="end" font-size="5.15" style="fill:#1c1c1c;stroke:none">0.8</text>
<line x1="301.70" y1="50.40" x2="304.30" y2="50.40" stroke="#000" stroke-width="0.9"/>
<text x="298.20" y="52.30" text-anchor="end" font-size="5.15" style="fill:#1c1c1c;stroke:none">1.0</text>
<line x1="301.70" y1="41.20" x2="304.30" y2="41.20" stroke="#000" stroke-width="0.9"/>
<text x="298.20" y="43.10" text-anchor="end" font-size="5.15" style="fill:#1c1c1c;stroke:none">1.2</text>
<line x1="301.70" y1="32.00" x2="304.30" y2="32.00" stroke="#000" stroke-width="0.9"/>
<text x="298.20" y="33.90" text-anchor="end" font-size="5.15" style="fill:#1c1c1c;stroke:none">1.4</text>
<line x1="316.75" y1="96.40" x2="316.75" y2="99.80" stroke="#000" stroke-width="0.95"/>
<line x1="334.75" y1="96.40" x2="334.75" y2="99.80" stroke="#000" stroke-width="0.95"/>
<line x1="352.75" y1="96.40" x2="352.75" y2="99.80" stroke="#000" stroke-width="0.95"/>
<line x1="370.90" y1="96.40" x2="370.90" y2="99.80" stroke="#000" stroke-width="0.95"/>
<rect x="311.00" y="137.10" width="11.50" height="45.10" fill="#c9c8cd"/>
<line x1="316.75" y1="136.40" x2="316.75" y2="137.10" stroke="#111" stroke-width="0.95"/>
<line x1="313.77" y1="136.40" x2="319.73" y2="136.40" stroke="#111" stroke-width="0.9"/>
<rect x="329.00" y="177.10" width="11.50" height="5.10" fill="#c9c8cd"/>
<line x1="334.75" y1="175.30" x2="334.75" y2="177.10" stroke="#111" stroke-width="0.95"/>
<line x1="331.77" y1="175.30" x2="337.73" y2="175.30" stroke="#111" stroke-width="0.9"/>
<text x="334.75" y="176.00" text-anchor="middle" font-size="4.8" style="stroke-width:0.12px">***</text>
<rect x="347.00" y="165.40" width="11.50" height="16.80" fill="#6aa843"/>
<line x1="352.75" y1="163.80" x2="352.75" y2="165.40" stroke="#111" stroke-width="0.95"/>
<line x1="349.77" y1="163.80" x2="355.73" y2="163.80" stroke="#111" stroke-width="0.9"/>
<text x="352.75" y="164.20" text-anchor="middle" font-size="4.8" style="stroke-width:0.12px">***</text>
<rect x="365.15" y="142.20" width="11.50" height="40.00" fill="#a30029"/>
<line x1="370.90" y1="137.50" x2="370.90" y2="142.20" stroke="#111" stroke-width="0.95"/>
<line x1="367.92" y1="137.50" x2="373.88" y2="137.50" stroke="#111" stroke-width="0.9"/>
<text x="370.90" y="134.75" text-anchor="middle" font-size="4.8" style="fill:#111;stroke:none">n.s.</text>
<path d="M332.00 124.50H370.70V129.30" fill="none" stroke="#111" stroke-width="1.0"/>
<text x="351.20" y="124.90" text-anchor="middle" font-size="4.8" style="stroke-width:0.12px">****</text>
<path d="M333.50 151.60H353.00V156.00" fill="none" stroke="#111" stroke-width="1.0"/>
<text x="343.00" y="152.10" text-anchor="middle" font-size="4.8" style="stroke-width:0.12px">***</text>
<line x1="304.30" y1="114.30" x2="304.30" y2="182.70" stroke="#000" stroke-width="1.2"/>
<line x1="301.70" y1="182.20" x2="383.00" y2="182.20" stroke="#000" stroke-width="1.15"/>
<line x1="301.70" y1="182.20" x2="304.30" y2="182.20" stroke="#000" stroke-width="0.9"/>
<text x="298.20" y="184.10" text-anchor="end" font-size="5.15" style="fill:#1c1c1c;stroke:none">0.0</text>
<line x1="301.70" y1="173.07" x2="304.30" y2="173.07" stroke="#000" stroke-width="0.9"/>
<text x="298.20" y="174.97" text-anchor="end" font-size="5.15" style="fill:#1c1c1c;stroke:none">0.2</text>
<line x1="301.70" y1="163.94" x2="304.30" y2="163.94" stroke="#000" stroke-width="0.9"/>
<text x="298.20" y="165.84" text-anchor="end" font-size="5.15" style="fill:#1c1c1c;stroke:none">0.4</text>
<line x1="301.70" y1="154.81" x2="304.30" y2="154.81" stroke="#000" stroke-width="0.9"/>
<text x="298.20" y="156.71" text-anchor="end" font-size="5.15" style="fill:#1c1c1c;stroke:none">0.6</text>
<line x1="301.70" y1="145.68" x2="304.30" y2="145.68" stroke="#000" stroke-width="0.9"/>
<text x="298.20" y="147.58" text-anchor="end" font-size="5.15" style="fill:#1c1c1c;stroke:none">0.8</text>
<line x1="301.70" y1="136.55" x2="304.30" y2="136.55" stroke="#000" stroke-width="0.9"/>
<text x="298.20" y="138.45" text-anchor="end" font-size="5.15" style="fill:#1c1c1c;stroke:none">1.0</text>
<line x1="301.70" y1="127.42" x2="304.30" y2="127.42" stroke="#000" stroke-width="0.9"/>
<text x="298.20" y="129.32" text-anchor="end" font-size="5.15" style="fill:#1c1c1c;stroke:none">1.2</text>
<line x1="301.70" y1="118.29" x2="304.30" y2="118.29" stroke="#000" stroke-width="0.9"/>
<text x="298.20" y="120.19" text-anchor="end" font-size="5.15" style="fill:#1c1c1c;stroke:none">1.4</text>
<line x1="316.75" y1="182.20" x2="316.75" y2="185.60" stroke="#000" stroke-width="0.95"/>
<line x1="334.75" y1="182.20" x2="334.75" y2="185.60" stroke="#000" stroke-width="0.95"/>
<line x1="352.75" y1="182.20" x2="352.75" y2="185.60" stroke="#000" stroke-width="0.95"/>
<line x1="370.90" y1="182.20" x2="370.90" y2="185.60" stroke="#000" stroke-width="0.95"/>
<rect x="311.00" y="221.60" width="11.50" height="45.15" fill="#c9c8cd"/>
<line x1="316.75" y1="218.80" x2="316.75" y2="221.60" stroke="#111" stroke-width="0.95"/>
<line x1="313.77" y1="218.80" x2="319.73" y2="218.80" stroke="#111" stroke-width="0.9"/>
<rect x="329.00" y="266.00" width="11.50" height="0.75" fill="#c9c8cd"/>
<line x1="334.75" y1="265.00" x2="334.75" y2="266.00" stroke="#111" stroke-width="0.95"/>
<line x1="331.77" y1="265.00" x2="337.73" y2="265.00" stroke="#111" stroke-width="0.9"/>
<text x="334.75" y="265.55" text-anchor="middle" font-size="4.8" style="stroke-width:0.12px">****</text>
<rect x="347.00" y="251.25" width="11.50" height="15.50" fill="#6aa843"/>
<line x1="352.75" y1="249.75" x2="352.75" y2="251.25" stroke="#111" stroke-width="0.95"/>
<line x1="349.77" y1="249.75" x2="355.73" y2="249.75" stroke="#111" stroke-width="0.9"/>
<text x="352.75" y="250.05" text-anchor="middle" font-size="4.8" style="stroke-width:0.12px">***</text>
<rect x="365.15" y="226.90" width="11.50" height="39.85" fill="#a30029"/>
<line x1="370.90" y1="222.50" x2="370.90" y2="226.90" stroke="#111" stroke-width="0.95"/>
<line x1="367.92" y1="222.50" x2="373.88" y2="222.50" stroke="#111" stroke-width="0.9"/>
<text x="370.90" y="219.25" text-anchor="middle" font-size="4.8" style="fill:#111;stroke:none">n.s.</text>
<path d="M332.00 208.80H371.00V213.20" fill="none" stroke="#111" stroke-width="1.0"/>
<text x="351.20" y="209.20" text-anchor="middle" font-size="4.8" style="stroke-width:0.12px">****</text>
<path d="M334.25 238.00H353.25V242.50" fill="none" stroke="#111" stroke-width="1.0"/>
<text x="343.00" y="238.30" text-anchor="middle" font-size="4.8" style="stroke-width:0.12px">***</text>
<line x1="304.30" y1="198.40" x2="304.30" y2="267.25" stroke="#000" stroke-width="1.2"/>
<line x1="301.70" y1="266.75" x2="383.00" y2="266.75" stroke="#000" stroke-width="1.15"/>
<line x1="301.70" y1="266.75" x2="304.30" y2="266.75" stroke="#000" stroke-width="0.9"/>
<text x="298.20" y="268.65" text-anchor="end" font-size="5.15" style="fill:#1c1c1c;stroke:none">0.0</text>
<line x1="301.70" y1="257.59" x2="304.30" y2="257.59" stroke="#000" stroke-width="0.9"/>
<text x="298.20" y="259.49" text-anchor="end" font-size="5.15" style="fill:#1c1c1c;stroke:none">0.2</text>
<line x1="301.70" y1="248.43" x2="304.30" y2="248.43" stroke="#000" stroke-width="0.9"/>
<text x="298.20" y="250.33" text-anchor="end" font-size="5.15" style="fill:#1c1c1c;stroke:none">0.4</text>
<line x1="301.70" y1="239.27" x2="304.30" y2="239.27" stroke="#000" stroke-width="0.9"/>
<text x="298.20" y="241.17" text-anchor="end" font-size="5.15" style="fill:#1c1c1c;stroke:none">0.6</text>
<line x1="301.70" y1="230.11" x2="304.30" y2="230.11" stroke="#000" stroke-width="0.9"/>
<text x="298.20" y="232.01" text-anchor="end" font-size="5.15" style="fill:#1c1c1c;stroke:none">0.8</text>
<line x1="301.70" y1="220.95" x2="304.30" y2="220.95" stroke="#000" stroke-width="0.9"/>
<text x="298.20" y="222.85" text-anchor="end" font-size="5.15" style="fill:#1c1c1c;stroke:none">1.0</text>
<line x1="301.70" y1="211.79" x2="304.30" y2="211.79" stroke="#000" stroke-width="0.9"/>
<text x="298.20" y="213.69" text-anchor="end" font-size="5.15" style="fill:#1c1c1c;stroke:none">1.2</text>
<line x1="301.70" y1="202.63" x2="304.30" y2="202.63" stroke="#000" stroke-width="0.9"/>
<text x="298.20" y="204.53" text-anchor="end" font-size="5.15" style="fill:#1c1c1c;stroke:none">1.4</text>
<line x1="316.75" y1="266.75" x2="316.75" y2="270.15" stroke="#000" stroke-width="0.95"/>
<line x1="334.75" y1="266.75" x2="334.75" y2="270.15" stroke="#000" stroke-width="0.95"/>
<line x1="352.75" y1="266.75" x2="352.75" y2="270.15" stroke="#000" stroke-width="0.95"/>
<line x1="370.90" y1="266.75" x2="370.90" y2="270.15" stroke="#000" stroke-width="0.95"/>
<text x="300.50" y="276.55" text-anchor="end" font-size="5.2" style="fill:#1c1c1c;stroke:none">Pyruvate:</text>
<line x1="315.45" y1="274.75" x2="318.05" y2="274.75" stroke="#111" stroke-width="0.6"/>
<line x1="316.75" y1="273.45" x2="316.75" y2="276.05" stroke="#111" stroke-width="0.6"/>
<line x1="333.55" y1="274.75" x2="335.95" y2="274.75" stroke="#111" stroke-width="0.6"/>
<line x1="351.55" y1="274.75" x2="353.95" y2="274.75" stroke="#111" stroke-width="0.6"/>
<line x1="369.60" y1="274.75" x2="372.20" y2="274.75" stroke="#111" stroke-width="0.6"/>
<line x1="370.90" y1="273.45" x2="370.90" y2="276.05" stroke="#111" stroke-width="0.6"/>
<text x="300.50" y="285.30" text-anchor="end" font-size="5.2" style="fill:#1c1c1c;stroke:none">Lactate:</text>
<line x1="315.45" y1="283.50" x2="318.05" y2="283.50" stroke="#111" stroke-width="0.6"/>
<line x1="316.75" y1="282.20" x2="316.75" y2="284.80" stroke="#111" stroke-width="0.6"/>
<line x1="333.55" y1="283.50" x2="335.95" y2="283.50" stroke="#111" stroke-width="0.6"/>
<line x1="351.45" y1="283.50" x2="354.05" y2="283.50" stroke="#111" stroke-width="0.6"/>
<line x1="352.75" y1="282.20" x2="352.75" y2="284.80" stroke="#111" stroke-width="0.6"/>
<line x1="369.70" y1="283.50" x2="372.10" y2="283.50" stroke="#111" stroke-width="0.6"/>
<rect x="443.40" y="48.20" width="7.00" height="48.20" fill="#c9c8cd"/>
<line x1="446.90" y1="46.60" x2="446.90" y2="48.20" stroke="#111" stroke-width="0.95"/>
<line x1="445.05" y1="46.60" x2="448.75" y2="46.60" stroke="#111" stroke-width="0.9"/>
<rect x="455.10" y="76.40" width="7.00" height="20.00" fill="#877fc0"/>
<line x1="458.60" y1="72.00" x2="458.60" y2="76.40" stroke="#111" stroke-width="0.95"/>
<line x1="456.75" y1="72.00" x2="460.45" y2="72.00" stroke="#111" stroke-width="0.9"/>
<text x="458.60" y="72.30" text-anchor="middle" font-size="4.8" style="stroke-width:0.12px">**</text>
<rect x="466.80" y="95.00" width="7.00" height="1.40" fill="#877fc0"/>
<line x1="470.30" y1="93.50" x2="470.30" y2="95.00" stroke="#111" stroke-width="0.95"/>
<line x1="468.45" y1="93.50" x2="472.15" y2="93.50" stroke="#111" stroke-width="0.9"/>
<text x="470.30" y="93.90" text-anchor="middle" font-size="4.8" style="stroke-width:0.12px">***</text>
<rect x="478.50" y="95.00" width="7.00" height="1.40" fill="#877fc0"/>
<line x1="482.00" y1="93.50" x2="482.00" y2="95.00" stroke="#111" stroke-width="0.95"/>
<line x1="480.15" y1="93.50" x2="483.85" y2="93.50" stroke="#111" stroke-width="0.9"/>
<text x="482.00" y="93.90" text-anchor="middle" font-size="4.8" style="stroke-width:0.12px">***</text>
<rect x="490.20" y="94.40" width="7.00" height="2.00" fill="#877fc0"/>
<line x1="493.70" y1="93.00" x2="493.70" y2="94.40" stroke="#111" stroke-width="0.95"/>
<line x1="491.85" y1="93.00" x2="495.55" y2="93.00" stroke="#111" stroke-width="0.9"/>
<text x="493.70" y="93.90" text-anchor="middle" font-size="4.8" style="stroke-width:0.12px">***</text>
<rect x="501.90" y="94.40" width="7.00" height="2.00" fill="#877fc0"/>
<line x1="505.40" y1="93.00" x2="505.40" y2="94.40" stroke="#111" stroke-width="0.95"/>
<line x1="503.55" y1="93.00" x2="507.25" y2="93.00" stroke="#111" stroke-width="0.9"/>
<text x="505.40" y="93.90" text-anchor="middle" font-size="4.8" style="stroke-width:0.12px">***</text>
<line x1="439.00" y1="28.30" x2="439.00" y2="96.90" stroke="#000" stroke-width="1.2"/>
<line x1="436.50" y1="96.40" x2="513.50" y2="96.40" stroke="#000" stroke-width="1.15"/>
<line x1="436.40" y1="96.40" x2="439.00" y2="96.40" stroke="#000" stroke-width="0.9"/>
<text x="432.90" y="98.30" text-anchor="end" font-size="5.15" style="fill:#1c1c1c;stroke:none">0</text>
<line x1="436.40" y1="80.10" x2="439.00" y2="80.10" stroke="#000" stroke-width="0.9"/>
<text x="432.90" y="82.00" text-anchor="end" font-size="5.15" style="fill:#1c1c1c;stroke:none">20</text>
<line x1="436.40" y1="63.80" x2="439.00" y2="63.80" stroke="#000" stroke-width="0.9"/>
<text x="432.90" y="65.70" text-anchor="end" font-size="5.15" style="fill:#1c1c1c;stroke:none">40</text>
<line x1="436.40" y1="47.50" x2="439.00" y2="47.50" stroke="#000" stroke-width="0.9"/>
<text x="432.90" y="49.40" text-anchor="end" font-size="5.15" style="fill:#1c1c1c;stroke:none">60</text>
<line x1="436.40" y1="31.20" x2="439.00" y2="31.20" stroke="#000" stroke-width="0.9"/>
<text x="432.90" y="33.10" text-anchor="end" font-size="5.15" style="fill:#1c1c1c;stroke:none">80</text>
<line x1="446.90" y1="96.40" x2="446.90" y2="99.80" stroke="#000" stroke-width="0.95"/>
<line x1="458.60" y1="96.40" x2="458.60" y2="99.80" stroke="#000" stroke-width="0.95"/>
<line x1="470.30" y1="96.40" x2="470.30" y2="99.80" stroke="#000" stroke-width="0.95"/>
<line x1="482.00" y1="96.40" x2="482.00" y2="99.80" stroke="#000" stroke-width="0.95"/>
<line x1="493.70" y1="96.40" x2="493.70" y2="99.80" stroke="#000" stroke-width="0.95"/>
<line x1="505.40" y1="96.40" x2="505.40" y2="99.80" stroke="#000" stroke-width="0.95"/>
<rect x="443.30" y="134.30" width="7.00" height="47.80" fill="#c9c8cd"/>
<line x1="446.80" y1="131.40" x2="446.80" y2="134.30" stroke="#111" stroke-width="0.95"/>
<line x1="444.95" y1="131.40" x2="448.65" y2="131.40" stroke="#111" stroke-width="0.9"/>
<rect x="454.75" y="155.40" width="7.00" height="26.70" fill="#877fc0"/>
<line x1="458.25" y1="154.10" x2="458.25" y2="155.40" stroke="#111" stroke-width="0.95"/>
<line x1="456.40" y1="154.10" x2="460.10" y2="154.10" stroke="#111" stroke-width="0.9"/>
<text x="458.25" y="154.10" text-anchor="middle" font-size="4.8" style="stroke-width:0.12px">**</text>
<rect x="466.20" y="150.00" width="7.00" height="32.10" fill="#877fc0"/>
<line x1="469.70" y1="143.00" x2="469.70" y2="150.00" stroke="#111" stroke-width="0.95"/>
<line x1="467.85" y1="143.00" x2="471.55" y2="143.00" stroke="#111" stroke-width="0.9"/>
<text x="469.70" y="142.90" text-anchor="middle" font-size="4.8" style="stroke-width:0.12px">*</text>
<text x="481.15" y="177.15" text-anchor="middle" font-size="4.8" style="fill:#111;stroke:none">n.d.</text>
<rect x="489.10" y="180.50" width="7.00" height="1.60" fill="#877fc0"/>
<line x1="492.60" y1="176.40" x2="492.60" y2="180.50" stroke="#111" stroke-width="0.95"/>
<line x1="490.75" y1="176.40" x2="494.45" y2="176.40" stroke="#111" stroke-width="0.9"/>
<text x="492.60" y="177.00" text-anchor="middle" font-size="4.8" style="stroke-width:0.12px">***</text>
<text x="504.05" y="177.15" text-anchor="middle" font-size="4.8" style="fill:#111;stroke:none">n.d.</text>
<line x1="439.00" y1="113.30" x2="439.00" y2="182.60" stroke="#000" stroke-width="1.2"/>
<line x1="436.50" y1="182.10" x2="511.30" y2="182.10" stroke="#000" stroke-width="1.15"/>
<line x1="436.40" y1="182.10" x2="439.00" y2="182.10" stroke="#000" stroke-width="0.9"/>
<text x="432.90" y="184.00" text-anchor="end" font-size="5.15" style="fill:#1c1c1c;stroke:none">0</text>
<line x1="436.40" y1="168.90" x2="439.00" y2="168.90" stroke="#000" stroke-width="0.9"/>
<text x="432.90" y="170.80" text-anchor="end" font-size="5.15" style="fill:#1c1c1c;stroke:none">20</text>
<line x1="436.40" y1="155.70" x2="439.00" y2="155.70" stroke="#000" stroke-width="0.9"/>
<text x="432.90" y="157.60" text-anchor="end" font-size="5.15" style="fill:#1c1c1c;stroke:none">40</text>
<line x1="436.40" y1="142.50" x2="439.00" y2="142.50" stroke="#000" stroke-width="0.9"/>
<text x="432.90" y="144.40" text-anchor="end" font-size="5.15" style="fill:#1c1c1c;stroke:none">60</text>
<line x1="436.40" y1="129.30" x2="439.00" y2="129.30" stroke="#000" stroke-width="0.9"/>
<text x="432.90" y="131.20" text-anchor="end" font-size="5.15" style="fill:#1c1c1c;stroke:none">80</text>
<line x1="436.40" y1="116.10" x2="439.00" y2="116.10" stroke="#000" stroke-width="0.9"/>
<text x="432.90" y="118.00" text-anchor="end" font-size="5.15" style="fill:#1c1c1c;stroke:none">100</text>
<line x1="446.80" y1="182.10" x2="446.80" y2="185.50" stroke="#000" stroke-width="0.95"/>
<line x1="458.25" y1="182.10" x2="458.25" y2="185.50" stroke="#000" stroke-width="0.95"/>
<line x1="469.70" y1="182.10" x2="469.70" y2="185.50" stroke="#000" stroke-width="0.95"/>
<line x1="481.15" y1="182.10" x2="481.15" y2="185.50" stroke="#000" stroke-width="0.95"/>
<line x1="492.60" y1="182.10" x2="492.60" y2="185.50" stroke="#000" stroke-width="0.95"/>
<line x1="504.05" y1="182.10" x2="504.05" y2="185.50" stroke="#000" stroke-width="0.95"/>
<text x="435.80" y="194.70" text-anchor="end" font-size="5.2" style="fill:#1c1c1c;stroke:none">DMSO:</text>
<line x1="445.50" y1="192.90" x2="448.10" y2="192.90" stroke="#111" stroke-width="0.6"/>
<line x1="446.80" y1="191.60" x2="446.80" y2="194.20" stroke="#111" stroke-width="0.6"/>
<line x1="457.05" y1="192.90" x2="459.45" y2="192.90" stroke="#111" stroke-width="0.6"/>
<line x1="468.50" y1="192.90" x2="470.90" y2="192.90" stroke="#111" stroke-width="0.6"/>
<line x1="479.95" y1="192.90" x2="482.35" y2="192.90" stroke="#111" stroke-width="0.6"/>
<line x1="491.40" y1="192.90" x2="493.80" y2="192.90" stroke="#111" stroke-width="0.6"/>
<line x1="502.85" y1="192.90" x2="505.25" y2="192.90" stroke="#111" stroke-width="0.6"/>
<text x="435.80" y="203.00" text-anchor="end" font-size="5.2" style="fill:#1c1c1c;stroke:none">NHI-2 (μM):</text>
<line x1="445.60" y1="201.20" x2="448.00" y2="201.20" stroke="#111" stroke-width="0.6"/>
<text x="458.25" y="203.00" text-anchor="middle" font-size="5.2" >10</text>
<text x="469.70" y="203.00" text-anchor="middle" font-size="5.2" >25</text>
<text x="481.15" y="203.00" text-anchor="middle" font-size="5.2" >50</text>
<text x="492.60" y="203.00" text-anchor="middle" font-size="5.2" >100</text>
<text x="504.05" y="203.00" text-anchor="middle" font-size="5.2" >200</text>
<text transform="translate(28.70 68.80) rotate(-90) scale(0.68 1)" text-anchor="middle" font-size="7" style="stroke-width:0.1px">% DAPI<tspan font-size="4" dy="-2.8" style="stroke-width:0">−</tspan></text>
<text transform="translate(28.60 156.50) rotate(-90) scale(0.68 1)" text-anchor="middle" font-size="7" style="stroke-width:0.1px">% DRAQ5<tspan font-size="4" dy="-2.8" style="stroke-width:0">−</tspan></text>
<text transform="translate(28.70 239.10) rotate(-90) scale(0.68 1)" text-anchor="middle" font-size="7" style="stroke-width:0.1px">TMRE</text>
<text transform="translate(164.30 67.00) rotate(-90) scale(0.68 1)" text-anchor="middle" font-size="7" style="stroke-width:0.1px">% DAPI<tspan font-size="4" dy="-2.8" style="stroke-width:0">−</tspan></text>
<text transform="translate(164.30 152.00) rotate(-90) scale(0.68 1)" text-anchor="middle" font-size="7" style="stroke-width:0.1px">% DRAQ5<tspan font-size="4" dy="-2.8" style="stroke-width:0">−</tspan></text>
<text transform="translate(164.50 235.40) rotate(-90) scale(0.68 1)" text-anchor="middle" font-size="7" style="stroke-width:0.1px">TMRE</text>
<text transform="translate(286.50 62.10) rotate(-90) scale(0.68 1)" text-anchor="middle" font-size="7" style="stroke-width:0.1px">% DAPI<tspan font-size="4" dy="-2.8" style="stroke-width:0">−</tspan></text>
<text transform="translate(286.50 148.90) rotate(-90) scale(0.68 1)" text-anchor="middle" font-size="7" style="stroke-width:0.1px">% DRAQ5<tspan font-size="4" dy="-2.8" style="stroke-width:0">−</tspan></text>
<text transform="translate(286.50 232.40) rotate(-90) scale(0.68 1)" text-anchor="middle" font-size="7" style="stroke-width:0.1px">TMRE</text>
<text transform="translate(422.30 63.00) rotate(-90) scale(0.68 1)" text-anchor="middle" font-size="7" style="stroke-width:0.1px">%DAPI<tspan font-size="4" dy="-2.8" style="stroke-width:0">−</tspan></text>
<text transform="translate(419.40 148.00) rotate(-90) scale(0.68 1)" text-anchor="middle" font-size="7" style="stroke-width:0.1px">%DRAQ5<tspan font-size="4" dy="-2.8" style="stroke-width:0">−</tspan></text>
<text x="6.9" y="16.55" font-size="11.6" font-weight="bold" style="stroke-width:0.4px">A</text>
<text x="141.0" y="16.55" font-size="11.6" font-weight="bold" style="stroke-width:0.4px">B</text>
<text x="266.6" y="16.55" font-size="11.6" font-weight="bold" style="stroke-width:0.4px">C</text>
<text x="397.9" y="16.55" font-size="11.6" font-weight="bold" style="stroke-width:0.4px">D</text>
</g>
<path d="M0 0H520V320H0Z M1.15 1.0V318.4H518.8V1.0Z" fill="#000" fill-rule="evenodd"/>
</svg>
</body></html>
